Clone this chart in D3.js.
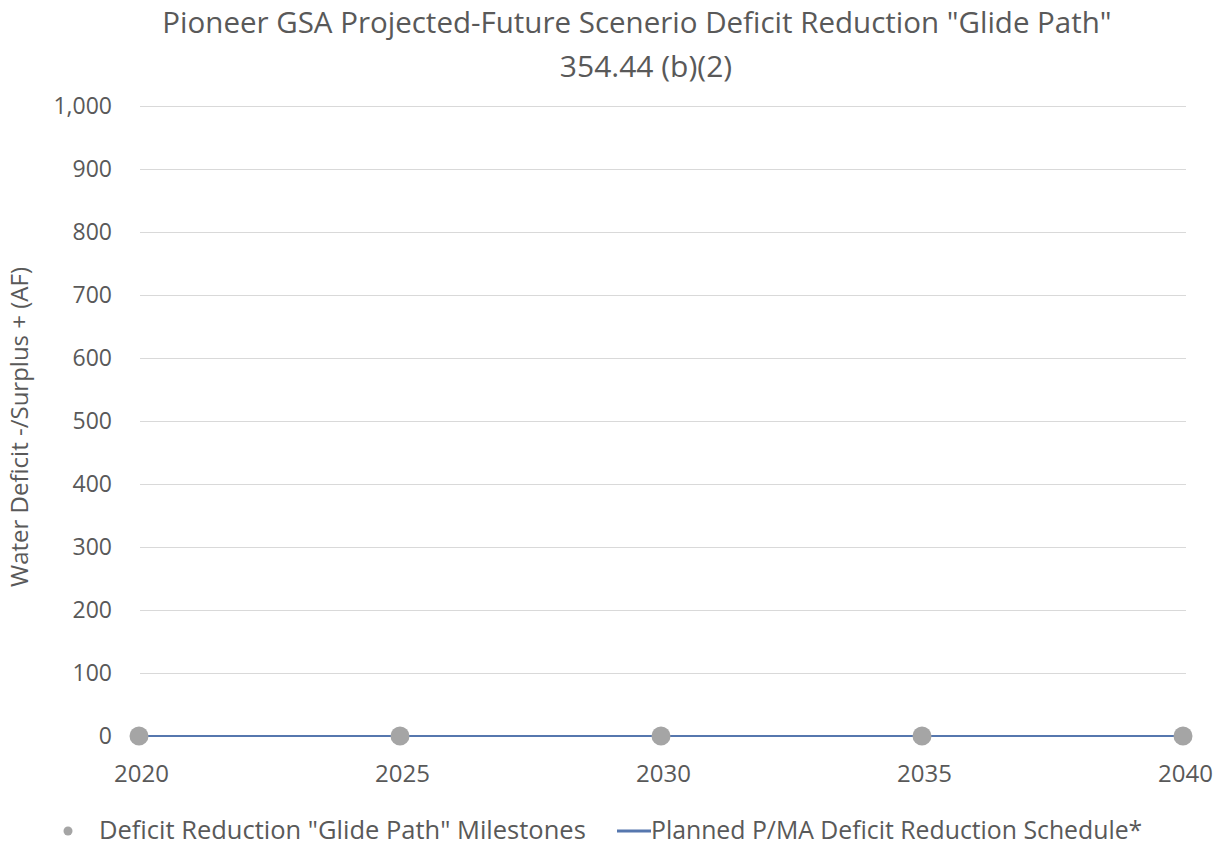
<!DOCTYPE html>
<html>
<head>
<meta charset="utf-8">
<script src="https://cdn.jsdelivr.net/npm/d3@7"></script>
<style>
  html, body { margin: 0; padding: 0; background: #fff; }
  svg { display: block; font-family: "Open Sans", sans-serif; }
</style>
</head>
<body>
<svg id="chart" width="1223" height="848"></svg>
<script>
const years = [2020, 2025, 2030, 2035, 2040];
const milestones = [0, 0, 0, 0, 0];
const planned = [0, 0, 0, 0, 0];
const yTicks = [0, 100, 200, 300, 400, 500, 600, 700, 800, 900, 1000];
const titleLines = ['Pioneer GSA Projected-Future Scenerio Deficit Reduction "Glide Path"', '354.44 (b)(2)'];
const yAxisTitle = 'Water Deficit -/Surplus + (AF)';
const legendLabels = ['Deficit Reduction "Glide Path" Milestones', 'Planned P/MA Deficit Reduction Schedule*'];

const svg = d3.select('#chart');
const plotLeft = 139, plotRight = 1183, plotTop = 106, plotBottom = 736;

const x = d3.scaleLinear().domain([2020, 2040]).range([plotLeft, plotRight]);
const y = d3.scaleLinear().domain([0, 1000]).range([plotBottom, plotTop]);

const textColor = '#595959';
const fs = 24;

// Title
svg.append('g').selectAll('text').data(titleLines).join('text')
  .attr('x', (d, i) => i === 0 ? 637 : 646).attr('y', (d, i) => 33 + i * 44)
  .attr('text-anchor', 'middle')
  .attr('font-size', (d, i) => i === 0 ? 29.5 : 30)
  .attr('fill', textColor)
  .text(d => d);

// Gridlines via axis
const yAxis = d3.axisLeft(y).tickValues(yTicks).tickSize(-(plotRight - plotLeft + 2)).tickPadding(26)
  .tickFormat(d3.format(','));
const gy = svg.append('g').attr('transform', `translate(${plotLeft - 1},0)`).call(yAxis);
gy.select('.domain').remove();
gy.selectAll('.tick line').attr('stroke', '#d9d9d9').attr('stroke-width', 1).attr('transform', 'translate(2,0)');
gy.selectAll('.tick text').attr('fill', textColor).attr('font-size', 23)
  .attr('font-family', '"Open Sans", sans-serif');

// X axis labels
const xAxis = d3.axisBottom(x).tickValues(years).tickSize(0).tickPadding(29).tickFormat(d3.format('d'));
const gx = svg.append('g').attr('transform', `translate(0,${plotBottom})`).call(xAxis);
gx.select('.domain').remove();
gx.selectAll('.tick text').attr('fill', textColor).attr('font-size', fs)
  .attr('font-family', '"Open Sans", sans-serif')
  .attr('dx', 2);

// Y axis title
svg.append('text')
  .attr('transform', `translate(28,427) rotate(-90)`)
  .attr('text-anchor', 'middle')
  .attr('font-size', fs)
  .attr('fill', textColor)
  .text(yAxisTitle);

// Line
const line = d3.line().x((d, i) => x(years[i])).y(d => y(d));
svg.append('path').datum(planned)
  .attr('d', line)
  .attr('fill', 'none')
  .attr('stroke', '#5677ae')
  .attr('stroke-width', 2);

// Points
svg.append('g').selectAll('circle').data(milestones).join('circle')
  .attr('cx', (d, i) => x(years[i]))
  .attr('cy', d => y(d))
  .attr('r', 9.5)
  .attr('fill', '#a5a5a5');

// Legend
const lg = svg.append('g');
lg.append('circle').attr('cx', 68).attr('cy', 831).attr('r', 4.5).attr('fill', '#a5a5a5');
lg.append('text').attr('x', 99).attr('y', 839).attr('font-size', 25.5).attr('fill', textColor).text(legendLabels[0]);
lg.append('line').attr('x1', 617).attr('x2', 651).attr('y1', 831).attr('y2', 831)
  .attr('stroke', '#5677ae').attr('stroke-width', 3);
lg.append('text').attr('x', 651).attr('y', 839).attr('font-size', 24.8).attr('fill', textColor).text(legendLabels[1]);
</script>
</body>
</html>
